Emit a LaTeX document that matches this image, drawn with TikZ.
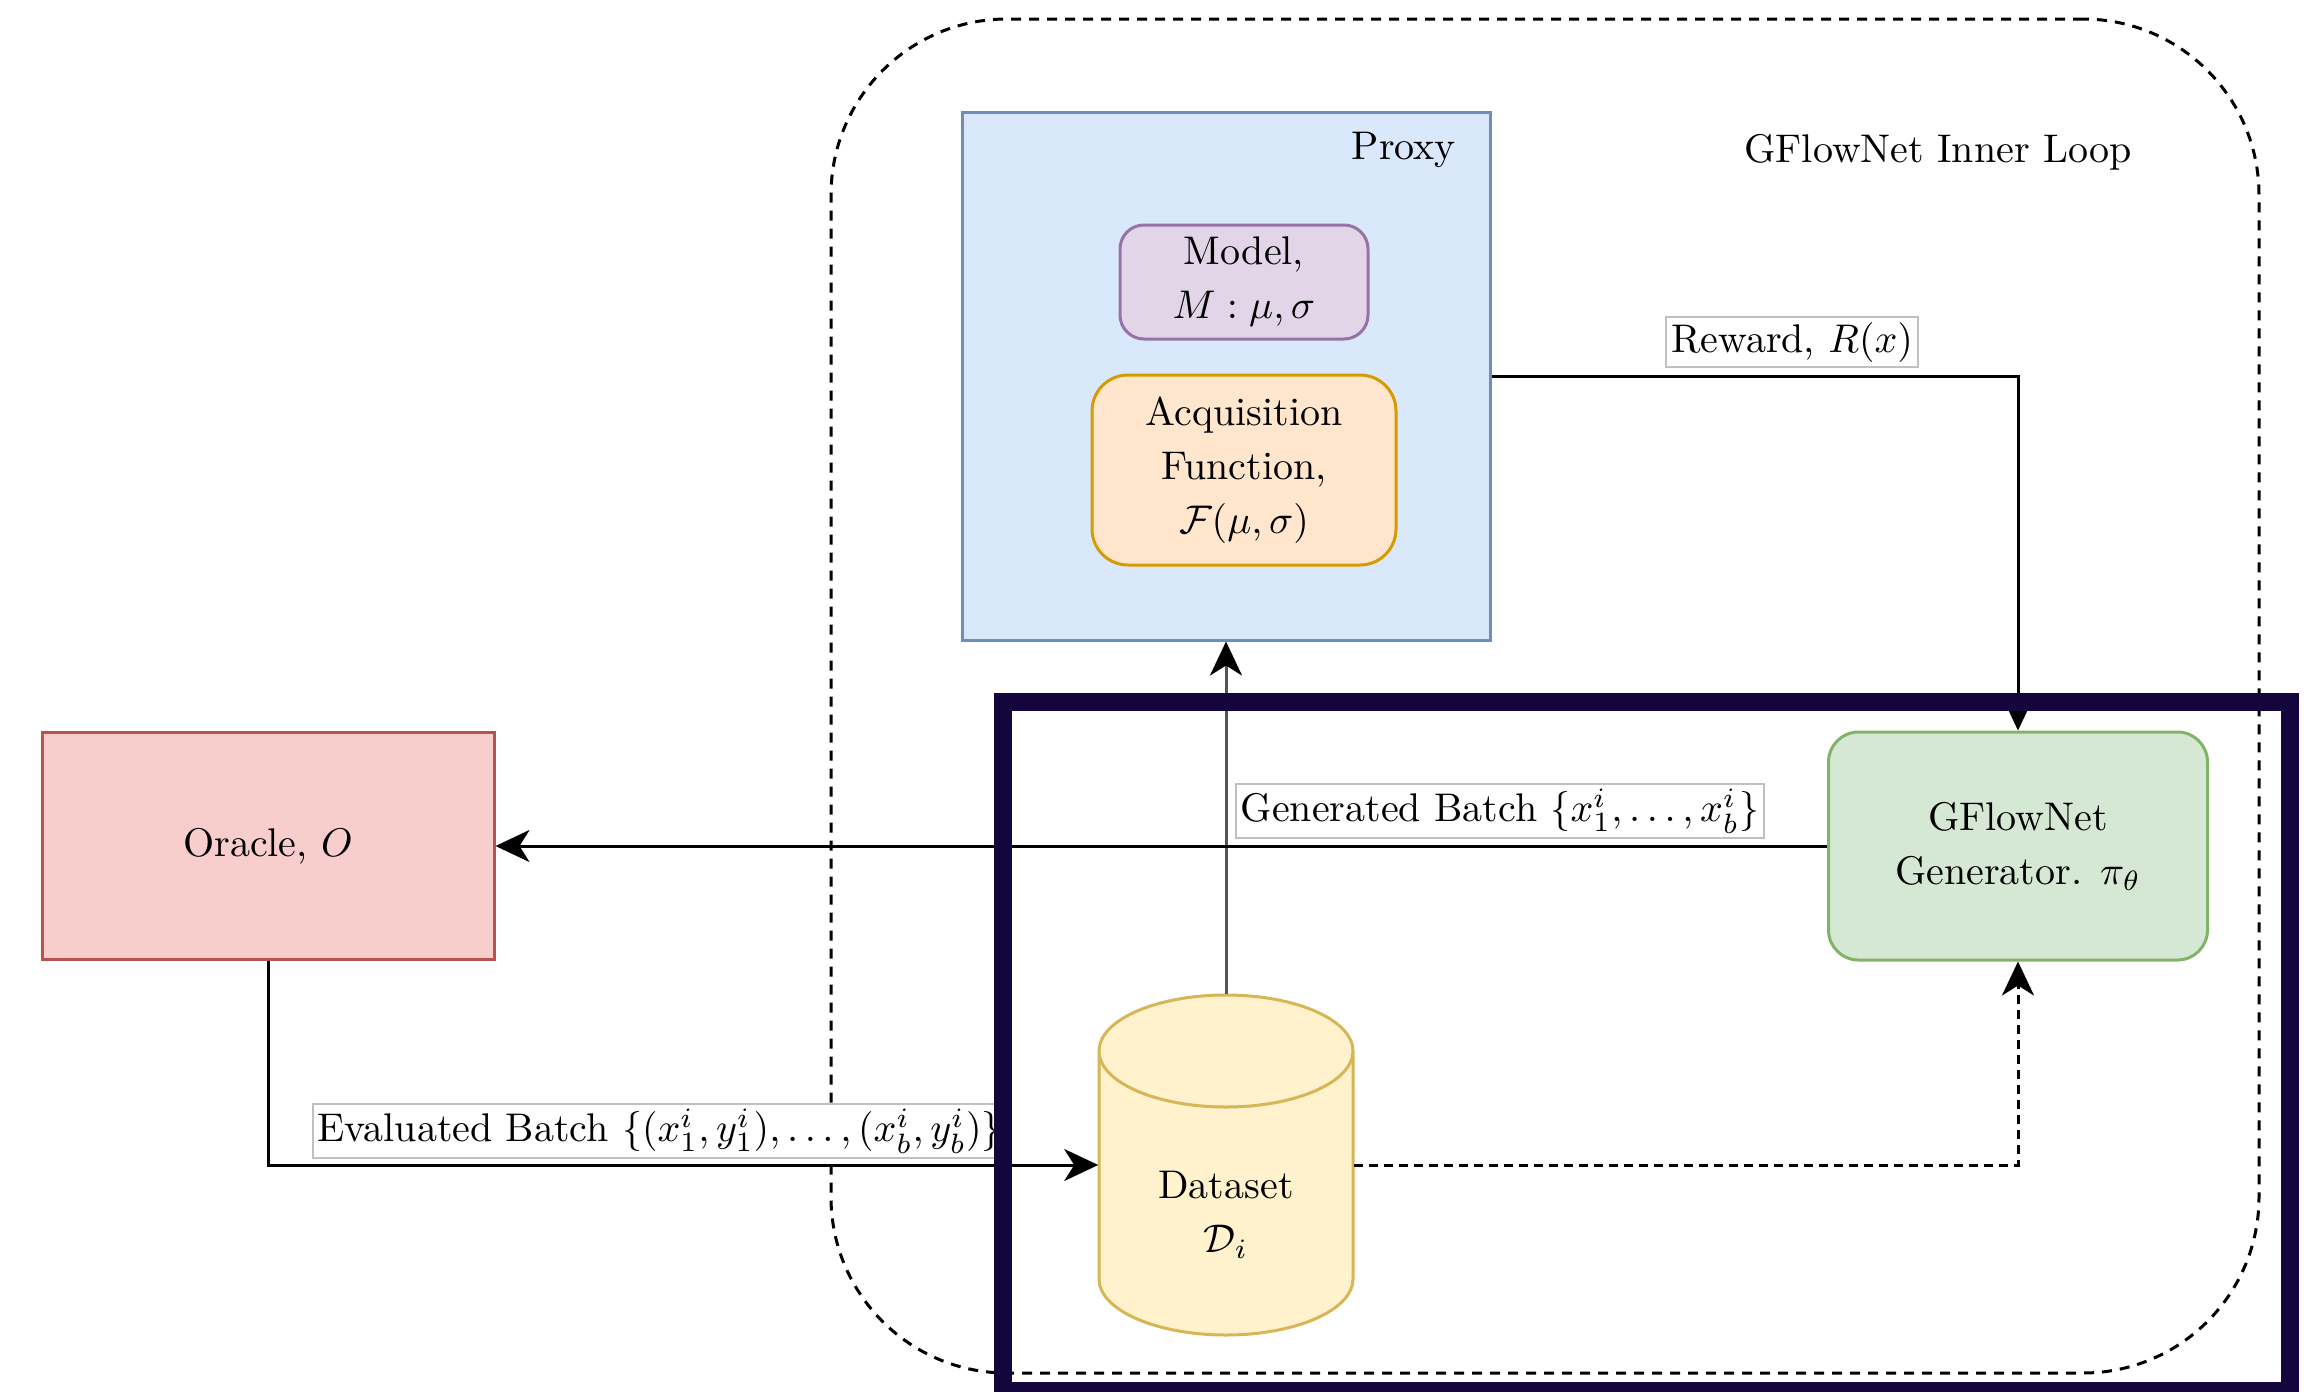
\documentclass[tikz,border=0pt]{standalone}
\usepackage{amsmath,amssymb}
\usetikzlibrary{arrows.meta}
\definecolor{pfill}{HTML}{DAE8FC}\definecolor{pbord}{HTML}{6C8EBF}
\definecolor{mfill}{HTML}{E1D5E7}\definecolor{mbord}{HTML}{9673A6}
\definecolor{afill}{HTML}{FFE6CC}\definecolor{abord}{HTML}{D79B00}
\definecolor{ofill}{HTML}{F8CECC}\definecolor{obord}{HTML}{B85450}
\definecolor{gfill}{HTML}{D5E8D4}\definecolor{gbord}{HTML}{82B366}
\definecolor{yfill}{HTML}{FFF2CC}\definecolor{ybord}{HTML}{D6B656}
\definecolor{navy}{HTML}{13063C}
\definecolor{lblgray}{HTML}{C0C0C0}
\definecolor{dkgray}{HTML}{555555}
\begin{document}
\begin{tikzpicture}[x=0.25pt,y=-0.25pt,
  font=\fontsize{10pt}{13.5pt}\selectfont,
  box/.style={draw, line width=0.75pt, inner sep=0pt, align=center},
  lbl/.style={draw=lblgray, fill=white, line width=0.4pt, inner sep=1.2pt},
  conn/.style={line width=0.75pt, -{Stealth[length=8.5pt,width=8pt,inset=2.5pt]}},
  dashconn/.style={conn, dash pattern=on 2.25pt off 1.5pt}]
\useasboundingbox (0,0) rectangle (2315,1392);
\clip (0,0) rectangle (2315,1392);
% outer dashed container
\node[draw, line width=0.75pt, dash pattern=on 2.5pt off 2pt, rounded corners=44pt,
  minimum width=357pt, minimum height=338.5pt, inner sep=0pt] (loop) at (1545,696) {};
\node (iloop) at (1938,152) {GFlowNet Inner Loop};
% proxy
\node[box, fill=pfill, draw=pbord, minimum width=132pt, minimum height=132pt] (proxy) at (1226,376) {};
\node[anchor=east] (plbl) at (1470,150) {Proxy};
\node[box, fill=mfill, draw=mbord, rounded corners=6pt, minimum width=62pt, minimum height=28.5pt] (model) at (1244,282) {Model,\\$M:\mu,\sigma$};
\node[box, fill=afill, draw=abord, rounded corners=9pt, minimum width=76pt, minimum height=47.5pt] (acq) at (1244,470) {Acquisition\\Function,\\$\mathcal{F}(\mu,\sigma)$};
% oracle
\node[box, fill=ofill, draw=obord, minimum width=113pt, minimum height=56.75pt] (oracle) at (268,846) {Oracle, $O$};
% generator
\node[box, fill=gfill, draw=gbord, rounded corners=7.5pt, minimum width=94.75pt, minimum height=57pt] (gen) at (2018,846) {GFlowNet\\Generator. $\pi_\theta$};
% dataset cylinder
\node[inner sep=0pt, minimum width=63.5pt, minimum height=85pt] (data) at (1226,1165) {};
\draw[fill=yfill, draw=ybord, line width=0.75pt] (1099,1051) -- (1099,1279)
  arc[start angle=180,end angle=360,x radius=31.75pt,y radius=14pt] -- (1353,1051)
  arc[start angle=0,end angle=180,x radius=31.75pt,y radius=14pt] -- cycle;
\draw[draw=ybord, line width=0.75pt] (1099,1051) arc[start angle=180,end angle=360,x radius=31.75pt,y radius=14pt];
\node[align=center] (dtext) at (1226,1215) {Dataset\\$\mathcal{D}_i$};
% connectors
\draw[conn] (proxy.east) -| (gen.north);
\node[lbl] (rlbl) at (1792,342) {Reward, $R(x)$};
\draw[conn, draw=dkgray, -{Stealth[length=8.5pt,width=8pt,inset=2.5pt,color=black]}] (data.north) -- (proxy.south);
\draw[conn] (gen.west) -- (oracle.east);
\node[lbl] (glbl) at (1500,811) {Generated Batch $\{x_1^i,\ldots,x_b^i\}$};
\draw[conn] (oracle.south) |- (data.west);
\node[lbl, anchor=west] (elbl) at (312,1131) {Evaluated Batch $\{(x_1^i,y_1^i),\ldots,(x_b^i,y_b^i)\}$};
\draw[dashconn] (data.east) -| (gen.south);
% highlight frame
\draw[navy, line width=4.5pt] (1003,702) rectangle (2290,1391);
\end{tikzpicture}
\end{document}
